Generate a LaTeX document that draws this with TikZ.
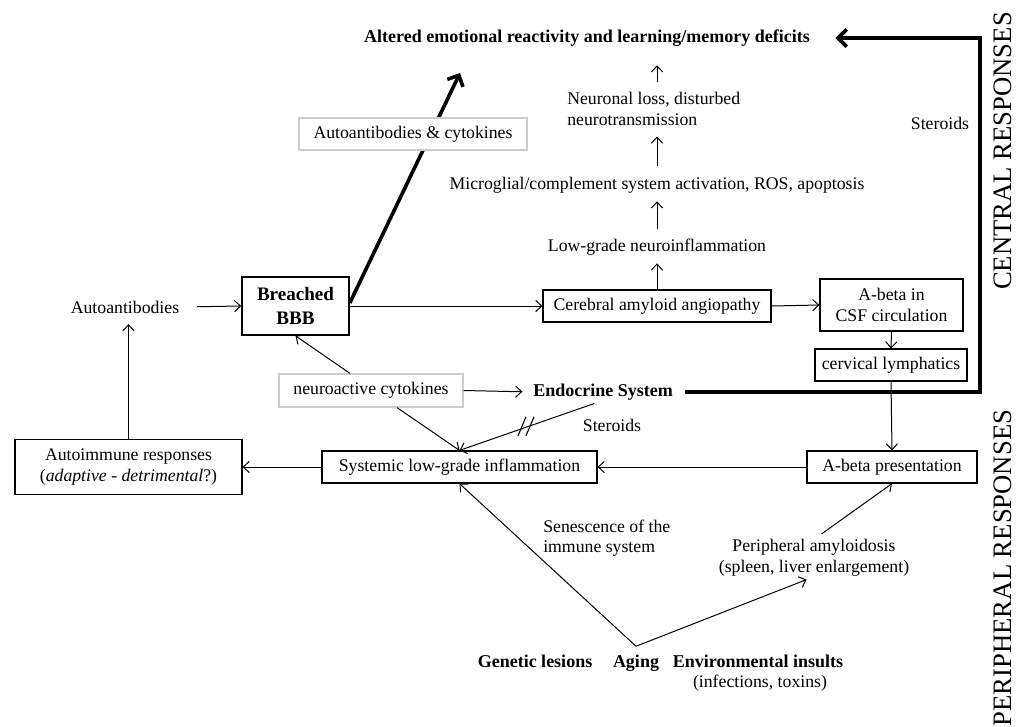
\documentclass[tikz,border=0pt]{standalone}
\usepackage{fontspec}
\setmainfont{Liberation Serif}
\usetikzlibrary{arrows.meta}
\newcommand\myfn{\fontsize{13.3}{15.5}\selectfont}
\newcommand\myfb{\fontsize{13.5}{15.5}\selectfont\bfseries}
\newcommand\myfbbb{\fontsize{14.3}{18.5}\selectfont\bfseries}
\newcommand\myfbig{\fontsize{20}{24}\selectfont}
\begin{document}
\begin{tikzpicture}[x=0.75pt,y=-0.75pt,
  every node/.style={inner sep=0pt, font=\myfn},
  bf/.style={font=\myfb},
  box/.style={draw, line width=0.9pt, fill=white},
  gbox/.style={draw=gray!40, line width=0.9pt, fill=white},
  arr/.style={line width=0.75pt, -{Straight Barb[length=4.5pt,width=8.5pt]}},
  bigarr/.style={line width=2.7pt, -{Straight Barb[length=6.5pt,width=13pt]}},
  thin/.style={line width=0.8pt}]
\useasboundingbox (0,0) rectangle (1021,726);

% text nodes
\node[bf] (title) at (587,38) {Altered emotional reactivity and learning/memory deficits};
\node[align=left, anchor=west] (neur) at (567,109) {Neuronal loss, disturbed\\neurotransmission};
\node (micro) at (657,185) {Microglial/complement system activation, ROS, apoptosis};
\node (lowg) at (657,247) {Low-grade neuroinflammation};
\node (ster1) at (940,123) {Steroids};
\node (autoab) at (125,307) {Autoantibodies};
\node[box, line width=1.2pt, minimum width=80.25pt, minimum height=43.5pt, align=center, font=\myfbbb] (bbb) at (295.5,306) {Breached\\BBB};
\node[box, minimum width=171pt, minimum height=24pt] (caa) at (657,306) {Cerebral amyloid angiopathy};
\node[box, minimum width=107.25pt, minimum height=39pt, align=center] (csf) at (891.5,305) {A-beta in\\CSF circulation};
\node[box, minimum width=114pt, minimum height=24pt] (cerv) at (891,365) {cervical lymphatics};
\node[gbox, minimum width=138pt, minimum height=24.75pt] (neuro) at (371,390.5) {neuroactive cytokines};
\node[bf] (endo) at (603,392) {Endocrine System};
\node (ster2) at (612,425) {Steroids};
\node[box, minimum width=206.25pt, minimum height=24pt] (sys) at (459.5,467) {Systemic low-grade inflammation};
\node[box, minimum width=170.25pt, minimum height=41.25pt, align=center] (auto) at (128.5,467) {Autoimmune responses\\(\textit{adaptive - detrimental}?)};
\node[box, minimum width=127.5pt, minimum height=24pt] (abp) at (892,467) {A-beta presentation};
\node[align=left, anchor=west] (sen) at (543,538) {Senescence of the\\immune system};
\node[align=center] (peri) at (814,558) {Peripheral amyloidosis\\(spleen, liver enlargement)};
\node[bf, anchor=base] (gen) at (535,667) {Genetic lesions};
\node[bf, anchor=base] (aging) at (636,667) {Aging};
\node[bf, anchor=base] (env) at (758,667) {Environmental insults};
\node (inf) at (760,683) {(infections, toxins)};
\node[rotate=90, font=\myfbig] (cr) at (1003,151) {CENTRAL RESPONSES};
\node[rotate=90, font=\myfbig] (pr) at (1003,568) {PERIPHERAL RESPONSES};

\coordinate (tA) at (460,73);
\coordinate (rc) at (980,200);
\coordinate (apex) at ([yshift=6pt]aging.north);

% connectors
\draw[arr, shorten <=13pt] (autoab.east) -- (bbb.west);
\draw[arr] (bbb.east) -- (caa.west);
\draw[arr] (caa.east) -- (csf.west);
\draw[arr] (csf.south) -- (cerv.north);
\draw[arr] (cerv.south) -- (abp.north);
\draw[arr] (abp.west) -- (sys.east);
\draw[arr] (sys.west) -- (auto.east);
\draw[arr, shorten >=8pt] (auto.north) -- (auto.north |- autoab.south);
\draw[arr, shorten >=6pt] (caa.north) -- (caa.north |- lowg.south);
\draw[arr, shorten <=7pt, shorten >=6pt] (lowg.north) -- (lowg.north |- micro.south);
\draw[arr, shorten <=8pt, shorten >=8pt] (micro.north) -- (micro.north |- neur.south);
\draw[arr, shorten <=8pt, shorten >=14pt] (micro.north |- neur.north) -- (micro.north |- title.south);

\draw[bigarr] ([yshift=2.25pt]bbb.east) -- (tA);
\node[gbox, minimum width=171pt, minimum height=24pt] (aac) at (413,134) {Autoantibodies \& cytokines};

\draw[arr] ([xshift=-15.75pt]neuro.north) -- (bbb.south);
\draw[arr, shorten >=8pt] (neuro.east) -- (endo.west);
\draw[arr] ([xshift=19.5pt]neuro.south) -- (sys.north);
\draw[arr, shorten <=7pt] (endo.south) -- (sys.north);
\path (endo.south) -- (sys.north) coordinate[pos=0.53] (sl);
\draw[thin] ([shift={(-9,9)}]sl) -- ([shift={(-1,-10)}]sl);
\draw[thin] ([shift={(-1,9)}]sl) -- ([shift={(7,-10)}]sl);

\draw[bigarr, shorten <=9pt, shorten >=19pt] (endo.east) -- (endo.east -| rc) -- (title.east -| rc) -- (title.east);

\draw[arr] (apex) -- (sys.south);
\draw[arr, shorten >=6pt] (apex) -- (peri.south);
\draw[arr, shorten <=7pt] (peri.north) -- (abp.south);
\end{tikzpicture}
\end{document}
